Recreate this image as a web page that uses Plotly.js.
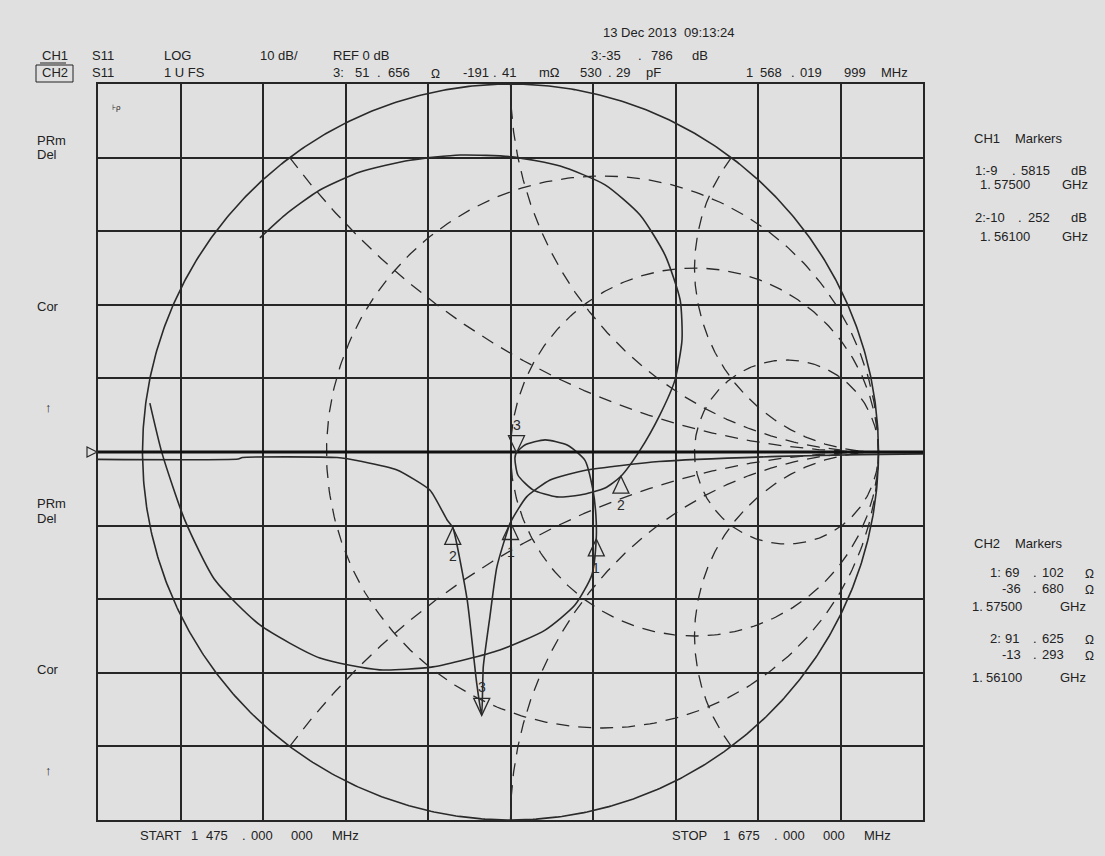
<!DOCTYPE html>
<html><head><meta charset="utf-8">
<script src="https://cdn.plot.ly/plotly-3.0.1.min.js"></script>
<style>html,body{margin:0;padding:0;background:#e0e0e0;} #chart{width:1105px;height:856px;}</style>
</head><body><div id="chart"></div>
<script>
// ---------- DATA ----------
// CH1: S11 log magnitude (10 dB/div, REF 0 dB at centre line)
const logFreqMHz = [1475, 1509, 1510, 1533, 1539, 1547.5, 1555.5, 1559.6, 1561, 1564.5, 1566.8, 1568.02, 1568.4, 1570, 1571.7, 1575, 1578.9, 1584.6, 1593.5, 1611, 1640, 1660, 1675];
const logDb      = [-1.0, -0.95, -0.75, -0.75, -1.3, -2.45, -5.2, -9.2, -10.25, -20.1, -31.4, -35.79, -29.2, -22.4, -15.6, -9.58, -6.1, -3.8, -2.45, -1.3, -0.6, -0.35, -0.25];

const smithRe = [-0.681,-0.613,-0.518,-0.409,-0.273,-0.137,0.004,0.135,0.257,0.352,0.420,0.461,0.466,0.447,0.406,0.352,0.300,0.257,0.189,0.126,0.061,0.020,0.012,0.016,0.039,0.094,0.154,0.202,0.224,0.232,0.233,0.221,0.175,0.094,-0.029,-0.211,-0.355,-0.518,-0.681,-0.803,-0.885,-0.947,-0.980];
const smithIm = [0.582,0.644,0.712,0.761,0.793,0.807,0.802,0.777,0.726,0.644,0.535,0.413,0.304,0.196,0.101,0.005,-0.066,-0.098,-0.117,-0.122,-0.103,-0.0625,-0.016,-0.002,0.019,0.033,0.019,-0.022,-0.103,-0.171,-0.236,-0.334,-0.416,-0.484,-0.538,-0.584,-0.592,-0.560,-0.470,-0.348,-0.185,-0.003,0.133];

// Markers
const ch1MarkerNames = ['1','2','3'];
const ch1MarkerFreqMHz = [1575.0, 1561.0, 1568.019999];
const ch1MarkerDb = [-9.5815, -10.252, -35.786];
const ch2MarkerNames = ['1','2','3'];
const ch2MarkerR = [69.102, 91.625, 51.656];   // ohm
const ch2MarkerX = [-36.680, -13.293, -0.19141]; // ohm
const activeMarker = '3';
const Z0 = 50;

// Smith graticule values (normalised)
const smithResistance = [1/3, 1, 3];
const smithReactance = [0.5, 1, 2];

// ---------- GEOMETRY ----------
const PL=98, PR=923, PT=84, PB=820;           // plot area in pixels
const pw = PR-PL, ph = PB-PT;
const RADIUS_PX = ph/2;                          // Smith chart radius = 5 vertical divisions
function gammaOf(r, x){ const a=r-1,c=r+1,den=c*c+x*x; return [(a*c+x*x)/den,(x*c-a*x)/den]; }
function px(x){ return (x-PL)/pw; }
function py(y){ return (PB-y)/ph; }

const INK = '#2a2a2a';
const FONT = 'Liberation Sans, Arial, sans-serif';
const traces = [];
const DASH = '13px,9px';

// outer Smith circle
(function(){
  const xs=[],ys=[];
  for(let i=0;i<=720;i++){const t=i/720*2*Math.PI; xs.push(Math.cos(t)); ys.push(Math.sin(t));}
  traces.push({x:xs,y:ys,xaxis:'x2',yaxis:'y2',mode:'lines',line:{color:INK,width:1.6},hoverinfo:'skip'});
})();
// resistance circles
smithResistance.forEach(r=>{
  const cx=r/(1+r), rad=1/(1+r), xs=[],ys=[];
  for(let i=0;i<=400;i++){const t=i/400*2*Math.PI; xs.push(cx+rad*Math.cos(t)); ys.push(rad*Math.sin(t));}
  traces.push({x:xs,y:ys,xaxis:'x2',yaxis:'y2',mode:'lines',line:{color:INK,width:1.3,dash:DASH},hoverinfo:'skip'});
});
// reactance arcs
smithReactance.forEach(xv=>{
  [xv,-xv].forEach(x=>{
    const xs=[],ys=[];
    for(let i=0;i<=400;i++){const t=Math.tan(i/400*0.999*Math.PI/2); const g=gammaOf(t,x); xs.push(g[0]); ys.push(g[1]);}
    traces.push({x:xs,y:ys,xaxis:'x2',yaxis:'y2',mode:'lines',line:{color:INK,width:1.3,dash:DASH},hoverinfo:'skip'});
  });
});
// CH2 smith trace
traces.push({x:smithRe,y:smithIm,xaxis:'x2',yaxis:'y2',mode:'lines',line:{color:INK,width:1.6,shape:'spline',smoothing:0.6},hoverinfo:'skip'});
// CH1 log trace
traces.push({x:logFreqMHz,y:logDb,xaxis:'x',yaxis:'y',mode:'lines',line:{color:INK,width:1.6,shape:'spline',smoothing:0.5},hoverinfo:'skip'});

// ---------- SHAPES & ANNOTATIONS ----------
const shapes = [];
const annotations = [];
// centre reference line (thick)
shapes.push({type:'line',xref:'paper',yref:'y',x0:0,x1:1,y0:0,y1:0,line:{color:'#111',width:3}});
// reference arrow at left
shapes.push({type:'path',xref:'paper',yref:'y',xsizemode:'pixel',ysizemode:'pixel',xanchor:0,yanchor:0,
  path:'M-11,5 L-1,0 L-11,-5 Z',line:{color:INK,width:1.2}});

const upTri = 'M0,0 L8,-17 L-8,-17 Z';
const downTri = 'M0,0 L8,17 L-8,17 Z';
function addMarker(xref,yref,x,y,name){
  const down = name===activeMarker;
  shapes.push({type:'path',xref,yref,xsizemode:'pixel',ysizemode:'pixel',xanchor:x,yanchor:y,
    path: down?downTri:upTri, line:{color:INK,width:1.3}});
  annotations.push({xref,yref,x,y,text:name,showarrow:false,font:{family:FONT,size:14,color:INK},
    yshift: down?28:-29, xanchor:'center',yanchor:'middle'});
}
ch1MarkerNames.forEach((n,i)=>addMarker('x','y',ch1MarkerFreqMHz[i],ch1MarkerDb[i],n));
ch2MarkerNames.forEach((n,i)=>{const g=gammaOf(ch2MarkerR[i]/Z0,ch2MarkerX[i]/Z0); addMarker('x2','y2',g[0],g[1],n);});

function txt(t,x,y,opt){
  opt=opt||{};
  annotations.push({xref:'paper',yref:'paper',x:px(x),y:py(y),text:t.replace(/ /g,'\u00a0'),showarrow:false,
    xanchor:opt.anchor||'left',yanchor:'middle',font:{family:FONT,size:opt.size||13,color:'#222'}});
}
// header
txt('13 Dec 2013  09:13:24',601,33);
txt('CH1',40,55); txt('S11',90,55); txt('LOG',162,55); txt('10 dB/',258,55); txt('REF 0 dB',331,55);
txt('3:-35',589,55); txt('.',636,55); txt('786',649,55); txt('dB',690,55);
txt('CH2',40,73); txt('S11',90,73); txt('1 U FS',162,73);
txt('3:',331,73); txt('51',353,73); txt('.',375,73); txt('656',386,73); txt('Ω',429,74,{size:12});
txt('-191',461,73); txt('.',491,73); txt('41',500,73); txt('mΩ',537,73);
txt('530',578,73); txt('.',606,73); txt('29',614,73); txt('pF',644,73);
txt('1',744,73); txt('568',758,73); txt('.',789,73); txt('019',798,73); txt('999',842,73); txt('MHz',879,73);
shapes.push({type:'line',xref:'paper',yref:'paper',x0:px(40),x1:px(66),y0:py(63),y1:py(63),line:{color:'#222',width:1}});
shapes.push({type:'rect',xref:'paper',yref:'paper',x0:px(36),x1:px(73),y0:py(65),y1:py(82),line:{color:'#222',width:1}});
// right panel
txt('CH1',972,138); txt('Markers',1013,138);
txt('1:-9',973,170); txt('.',1010,170); txt('5815',1019,170); txt('dB',1069,170);
txt('1.',978,185); txt('57500',992,185); txt('GHz',1060,185);
txt('2:-10',973,218); txt('.',1016,218); txt('252',1026,218); txt('dB',1069,218);
txt('1.',978,236); txt('56100',992,236); txt('GHz',1060,236);
txt('CH2',972,543); txt('Markers',1013,543);
txt('1:',988,572); txt('69',1003,572); txt('.',1031,572); txt('102',1040,572); txt('Ω',1083,574,{size:12});
txt('-36',1000,588); txt('.',1031,588); txt('680',1040,588); txt('Ω',1083,590,{size:12});
txt('1.',970,606); txt('57500',984,606); txt('GHz',1058,606);
txt('2:',988,638); txt('91',1003,638); txt('.',1031,638); txt('625',1040,638); txt('Ω',1083,640,{size:12});
txt('-13',1000,654); txt('.',1031,654); txt('293',1040,654); txt('Ω',1083,656,{size:12});
txt('1.',970,677); txt('56100',984,677); txt('GHz',1058,677);
// left labels
txt('PRm',35,140); txt('Del',35,155); txt('Cor',35,306); txt('↑',48,407,{anchor:'center',size:13});
txt('PRm',35,503); txt('Del',35,518); txt('Cor',35,669); txt('↑',48,770,{anchor:'center',size:13});
txt('⊦ρ',110,107,{size:8});
// footer
const startX=138, stopX=670;
[[0,'START'],[51,'1'],[66,'475'],[102,'.'],[111,'000'],[151,'000'],[192,'MHz']].forEach(p=>txt(p[1],startX+p[0],835));
[[0,'STOP'],[51,'1'],[66,'675'],[102,'.'],[111,'000'],[151,'000'],[192,'MHz']].forEach(p=>txt(p[1],stopX+p[0],835));

const gridAxis = {showgrid:true,gridcolor:'#262626',gridwidth:2,zeroline:false,showticklabels:false,ticks:'',
  showline:true,mirror:true,linecolor:'#262626',linewidth:2,fixedrange:true};
const xr = (pw/2)/RADIUS_PX;
const layout = {
  width:1105,height:856,margin:{l:PL,r:1105-PR,t:PT,b:856-PB,pad:0},
  paper_bgcolor:'#e0e0e0',plot_bgcolor:'#e0e0e0',showlegend:false,
  xaxis:Object.assign({range:[1475,1675],tick0:1475,dtick:20},gridAxis),
  yaxis:Object.assign({range:[-50,50],tick0:0,dtick:10},gridAxis),
  xaxis2:{range:[-xr,xr],overlaying:'x',anchor:'y2',visible:false,fixedrange:true},
  yaxis2:{range:[-1,1],overlaying:'y',anchor:'x2',visible:false,fixedrange:true},
  shapes,annotations
};
Plotly.newPlot('chart',traces,layout,{displayModeBar:false,staticPlot:true});
</script></body></html>
